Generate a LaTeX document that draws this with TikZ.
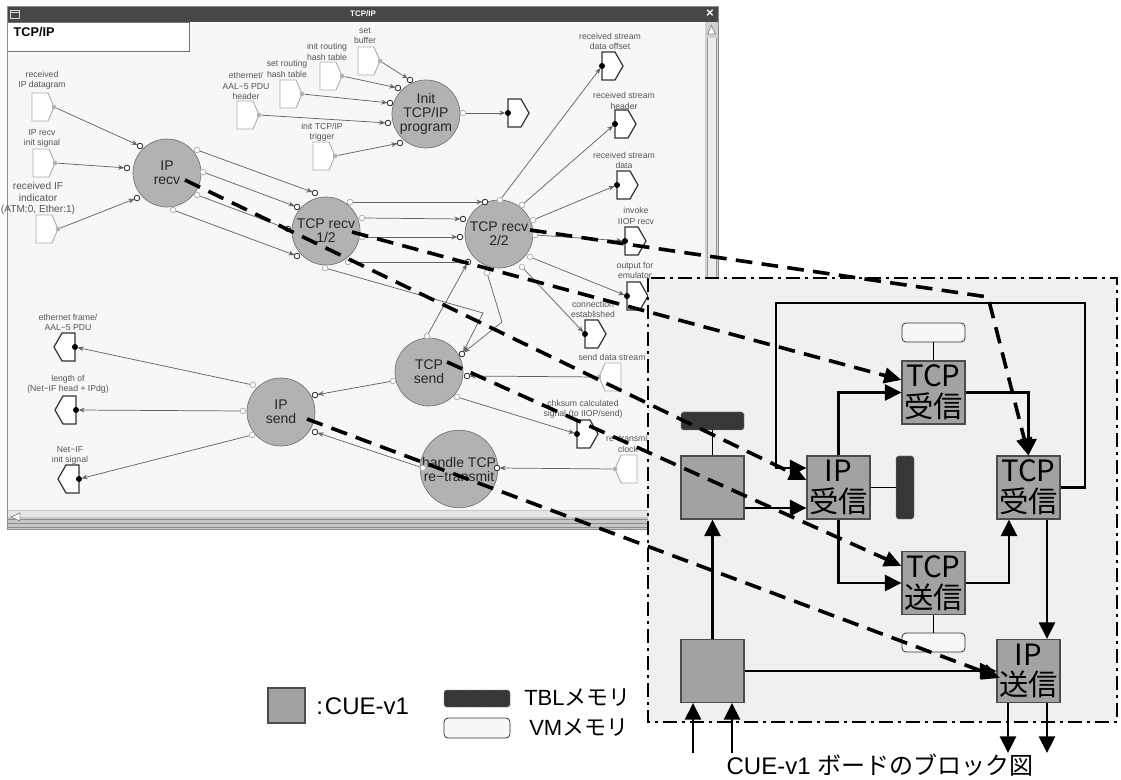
\documentclass[tikz,border=0pt]{standalone}
\usepackage{fontspec}
\setmainfont{Liberation Sans}
\newfontfamily\jp{Noto Sans CJK JP}
\usetikzlibrary{arrows.meta}
\definecolor{winbg}{RGB}{247,247,247}
\definecolor{circfill}{RGB}{178,178,178}
\definecolor{blk}{RGB}{162,162,162}
\definecolor{panel}{RGB}{240,240,240}
\definecolor{tbl}{RGB}{55,55,55}
\definecolor{vm}{RGB}{247,247,247}
\definecolor{lbl}{RGB}{85,85,85}
\definecolor{wirec}{RGB}{100,100,100}
\definecolor{intermc}{RGB}{175,175,175}
\tikzset{
 proc/.style={circle, draw=black!55, line width=0.5pt, fill=circfill, minimum size=51pt, inner sep=0pt, align=center, font=\fontsize{10.5}{10.5}\selectfont, text=black!85},
 lab/.style={align=center, font=\fontsize{6.5}{7.8}\selectfont, text=lbl, inner sep=0pt},
 wire/.style={draw=wirec, line width=0.55pt, shorten <=2pt, shorten >=2pt, -{Stealth[length=4.5pt,width=3.6pt]}},
 interm/.style={draw=intermc, line width=0.7pt, fill=white},
 outterm/.style={draw=black!80, line width=0.9pt, fill=white},
 inring/.style={draw=black!85, line width=0.6pt, fill=white},
 outring/.style={draw=black!30, line width=0.6pt, fill=white},
 cue/.style={draw=black!70, line width=0.8pt, fill=blk, minimum width=47.25pt, minimum height=47.25pt, inner sep=0pt, align=center, font=\jp\fontsize{22}{23}\selectfont},
 tblmem/.style={draw=black!50, densely dotted, line width=0.6pt, fill=tbl, rounded corners=2pt, inner sep=0pt},
 vmmem/.style={draw=black!80, line width=0.6pt, fill=vm, rounded corners=3pt, inner sep=0pt, minimum width=47.25pt, minimum height=14.25pt},
 solidarrow/.style={line width=2.2pt, -{Triangle[length=12.5pt,width=12pt]}},
 dasharrow/.style={line width=2.7pt, dash pattern=on 12.5pt off 7pt, -{Triangle[length=13pt,width=11.5pt]}},
 panelbox/.style={draw=black, fill=panel, line width=2.2pt, dash pattern=on 10.5pt off 3.75pt on 2.25pt off 3.75pt},
}
\newcommand{\tInR}[3]{%
  \draw[interm] (#2,#3) -- ++(-6,-14) -- ++(-16,0) -- ++(0,28) -- ++(16,0) -- cycle;
  \coordinate (#1) at (#2,#3);
  \fill[gray!60] (#1) circle[radius=2.3];}
\newcommand{\tInL}[3]{%
  \draw[interm] (#2,#3) -- ++(6,-14) -- ++(16,0) -- ++(0,28) -- ++(-16,0) -- cycle;
  \coordinate (#1) at (#2,#3);
  \fill[gray!60] (#1) circle[radius=2.3];}
\newcommand{\tOutR}[3]{%
  \draw[outterm] (#2,#3) -- ++(0,-14) -- ++(13,0) -- ++(8,14) -- ++(-8,14) -- ++(-13,0) -- cycle;
  \coordinate (#1) at (#2,#3);
  \fill[black] (#1) circle[radius=3];}
\newcommand{\tOutL}[3]{%
  \draw[outterm] (#2,#3) -- ++(0,-14) -- ++(-13,0) -- ++(-8,14) -- ++(8,14) -- ++(13,0) -- cycle;
  \coordinate (#1) at (#2,#3);
  \fill[black] (#1) circle[radius=3];}
\begin{document}
\begin{tikzpicture}[x=0.75pt,y=-0.75pt]
\useasboundingbox (0,0) rectangle (1121,780);
\fill[white] (0,0) rectangle (1121,780);

% ---------------- screenshot window ----------------
\fill[winbg] (7,22) rectangle (705,510);
\fill[black!72] (7,6) rectangle (718,22);
\draw[white!85!black, line width=0.6pt] (10.5,10) rectangle (19,18);
\draw[white!85!black, line width=0.6pt] (11,12.5) -- (18.5,12.5);
\node[font=\bfseries\fontsize{6}{6}\selectfont, text=white] (title) at (363,14) {TCP/IP};
\node[font=\bfseries\fontsize{10}{10}\selectfont, text=white] (closex) at (710,14) {×};
\draw[fill=white, draw=black!55, line width=0.7pt] (7,22) rectangle (189,51);
\node[anchor=west, font=\bfseries\fontsize{9.5}{10}\selectfont] (hdr) at (9,32) {TCP/IP};
% right scrollbar
\fill[black!18] (705,22) rectangle (718,510);
\fill[black!8] (707,38) rectangle (716,508);
\draw[black!40, line width=0.5pt] (707,38) -- (707,508) (716,38) -- (716,508);
\draw[black!45, line width=0.6pt, fill=white] (707.5,34) -- (711.5,25.5) -- (715.5,34) -- cycle;
% bottom scrollbar
\fill[black!22] (7,510) rectangle (705,529);
\fill[black!10] (7,511) rectangle (705,517);
\draw[black!45, line width=0.6pt] (7,519) -- (705,519) (7,523) -- (705,523) (7,527) -- (705,527);
\draw[black!45, line width=0.6pt, fill=white] (20,513) -- (11,517) -- (20,521) -- cycle;
\draw[black!45, line width=0.6pt] (7,6) rectangle (718,529);

% process circles
\node[proc] (iprecv) at (167,173) {IP\\recv};
\node[proc] (tcp1) at (326,231) {TCP recv\\1/2};
\node[proc] (tcp2) at (499,234) {TCP recv\\2/2};
\node[proc] (init) at (426,114) {Init\\TCP/IP\\program};
\node[proc] (tsend) at (429,372) {TCP\\send};
\node[proc] (isend) at (281,412) {IP\\send};
\node[proc] (handle) at (459,469) {handle TCP\\re−transmit};

% terminals
\tInR{trid}{54}{107}
\tInR{tirs}{55}{163}
\tInR{trif}{58}{229}
\tInR{tsbuf}{380}{61}
\tInR{tirh}{342}{76}
\tInR{tsrh}{302}{94}
\tInR{teth}{259}{115}
\tInR{titt}{335}{156}
\tInL{tsds}{599}{377}
\tInL{trtc}{615}{469}
\tOutR{tinit}{508}{113}
\tOutR{trsdo}{602}{66}
\tOutR{trsh}{615}{124}
\tOutR{trsd}{617}{185}
\tOutR{tiiop}{625}{241}
\tOutR{tofe}{627}{296}
\tOutR{tconn}{585}{334}
\tOutR{tchk}{577}{434}
\tOutL{tethf}{75}{347}
\tOutL{tlen}{76}{410}
\tOutL{tnetif}{79}{479}

% labels
\node[lab] (l1) at (42,80.5) {received\\IP datagram};
\node[lab] (l2) at (42,138.5) {IP recv\\init signal};
\node[lab, font=\fontsize{7.6}{8.6}\selectfont] (l3) at (38,198.5) {received IF\\indicator\\(ATM:0, Ether:1)};
\node[lab] (l4) at (365,36) {set\\buffer};
\node[lab] (l5) at (327,52) {init routing\\hash table};
\node[lab] (l6) at (287,69) {set routing\\hash table};
\node[lab] (l7) at (246,86) {ethernet/\\AAL−5 PDU\\header};
\node[lab] (l8) at (322,132) {init TCP/IP\\trigger};
\node[lab] (l9) at (610,41.5) {received stream\\data offset};
\node[lab] (l10) at (624,101) {received stream\\header};
\node[lab] (l11) at (624,160.5) {received stream\\data};
\node[lab] (l12) at (636,216) {invoke\\IIOP recv};
\node[lab] (l13) at (635,270.5) {output for\\emulator};
\node[lab] (l14) at (593,309.5) {connection\\established};
\node[lab] (l15) at (612,357) {send data stream};
\node[lab] (l16) at (583,409.5) {chksum calculated\\signal (to IIOP/send)};
\node[lab] (l17) at (628,444) {re−transmit\\clock};
\node[lab] (l18) at (68,322.5) {ethernet frame/\\AAL−5 PDU};
\node[lab] (l19) at (68,384.5) {length of\\(Net−IF head + IPdg)};
\node[lab] (l20) at (70,455.5) {Net−IF\\init signal};

% ports
\coordinate (pa1) at (140,146); \coordinate (pa2) at (127,168); \coordinate (pa3) at (137,198);
\coordinate (pa4) at (197,150); \coordinate (pa5) at (203,172); \coordinate (pa6) at (197,195); \coordinate (pa7) at (173,210);
\coordinate (pb1) at (315,193); \coordinate (pb2) at (297,207); \coordinate (pb3) at (288,229); \coordinate (pb4) at (297,256);
\coordinate (pb5) at (350,202); \coordinate (pb6) at (362,218); \coordinate (pb7) at (362,237); \coordinate (pb8) at (348,262); \coordinate (pb9) at (325,268);
\coordinate (pc1) at (485,202); \coordinate (pc2) at (463,219); \coordinate (pc3) at (460,237); \coordinate (pc4) at (468,262);
\coordinate (pc5) at (500,200); \coordinate (pc6) at (522,205); \coordinate (pc7) at (533,220); \coordinate (pc8) at (535,235);
\coordinate (pc9) at (530,257); \coordinate (pc10) at (522,267); \coordinate (pc11) at (487,273);
\coordinate (pd1) at (410,80); \coordinate (pd2) at (398,88); \coordinate (pd3) at (390,103); \coordinate (pd4) at (388,123); \coordinate (pd5) at (400,143); \coordinate (pd6) at (463,113);
\coordinate (pe1) at (462,354); \coordinate (pe2) at (467,376); \coordinate (pe3) at (427,336); \coordinate (pe4) at (457,397); \coordinate (pe5) at (393,381);
\coordinate (pf1) at (315,395); \coordinate (pf2) at (315,432); \coordinate (pf3) at (253,385); \coordinate (pf4) at (243,411); \coordinate (pf5) at (252,435);
\coordinate (pg1) at (497,468); \coordinate (pg2) at (423,468);
\coordinate (k1) at (483,313); \coordinate (k2) at (502,322);

% wires
\draw[wire] (trid) -- (pa1); \draw[wire] (tirs) -- (pa2); \draw[wire] (trif) -- (pa3);
\draw[wire] (pa4) -- (pb1); \draw[wire] (pa5) -- (pb2); \draw[wire] (pa6) -- (pb3); \draw[wire] (pa7) -- (pb4);
\draw[wire] (pb5) -- (pc1); \draw[wire] (pb6) -- (pc2); \draw[wire] (pb7) -- (pc3); \draw[wire] (pb8) -- (pc4);
\draw[wire] (pb9) -- (k1) -- (pe1); \draw[wire] (pc11) -- (k2) -- (pe1); \draw[wire] (pe3) -- (pc4);
\draw[wire] (tsbuf) -- (pd1); \draw[wire] (tirh) -- (pd2); \draw[wire] (tsrh) -- (pd3); \draw[wire] (teth) -- (pd4); \draw[wire] (titt) -- (pd5);
\draw[wire] (pd6) -- (tinit);
\draw[wire] (pc5) -- (trsdo); \draw[wire] (pc6) -- (trsh); \draw[wire] (pc7) -- (trsd);
\draw[wire] (pc8) -- (tiiop); \draw[wire] (pc9) -- (tofe); \draw[wire] (pc10) -- (tconn);
\draw[wire] (tsds) -- (pe2); \draw[wire] (pe4) -- (tchk); \draw[wire] (pe5) -- (pf1);
\draw[wire] (trtc) -- (pg1); \draw[wire] (pg2) -- (pf2);
\draw[wire] (pf3) -- (tethf); \draw[wire] (pf4) -- (tlen); \draw[wire] (pf5) -- (tnetif);
\foreach \p in {pa1,pa2,pa3,pb1,pb2,pb3,pb4,pc1,pc2,pc3,pc4,pd1,pd2,pd3,pd4,pd5,pe1,pe2,pf1,pf2,pg1}
  \draw[inring] (\p) circle[radius=2.8];
\foreach \p in {pa4,pa5,pa6,pa7,pb5,pb6,pb7,pb8,pb9,pc5,pc6,pc7,pc8,pc9,pc10,pc11,pd6,pe3,pe4,pe5,pf3,pf4,pf5,pg2}
  \draw[outring] (\p) circle[radius=2.8];

% ---------------- block diagram panel ----------------
\draw[panelbox] (648,278) rectangle (1117,722);

\node[cue] (tcpr1) at (933.5,392.5) {TCP\\受信};
\node[vmmem] (vm1) at (933.5,332.5) {};
\draw[line width=0.6pt] (vm1.south) -- (tcpr1.north);
\node[cue] (ipr) at (838.5,487.5) {IP\\受信};
\node[tblmem, minimum width=13.5pt, minimum height=47.25pt] (tblv) at (905,487.5) {};
\draw[line width=0.6pt] (ipr.east) -- (tblv.west);
\node[cue] (tcpr2) at (1028.5,487.5) {TCP\\受信};
\node[cue] (tcps) at (933.5,583) {TCP\\送信};
\node[vmmem] (vm2) at (933.5,642.5) {};
\draw[line width=0.6pt] (tcps.south) -- (vm2.north);
\node[cue] (cueA) at (712.5,487.5) {};
\node[tblmem, minimum width=47.25pt, minimum height=13.5pt] (tblh) at (712.5,421) {};
\draw[line width=0.6pt] (tblh.south) -- (cueA.north);
\node[cue] (cueB) at (712.5,671) {};
\node[cue] (ips) at (1028.5,671) {IP\\送信};

\coordinate (lp1) at (1085,303);
\coordinate (lp2) at (776,303);
\coordinate (lp3) at (776,468);
\coordinate (y508) at (0,508);
\coordinate (x1009) at (1009,0);
\coordinate (x1047) at (1047,0);
\coordinate (in1) at (693,753);
\coordinate (in2) at (732,753);
\coordinate (out1) at (1008,753);
\coordinate (out2) at (1047,753);

\draw[solidarrow] (tcpr2.east) -| (lp1) -- (lp2) -- (lp3) -- (lp3 -| ipr.west);
\draw[solidarrow] (cueB.north) -- (cueA.south);
\draw[solidarrow] (cueA.east |- y508) -- (ipr.west |- y508);
\draw[solidarrow] (ipr.north) |- (tcpr1.west);
\draw[solidarrow] (ipr.south) |- (tcps.west);
\draw[solidarrow] (tcpr1.east) -| (tcpr2.north);
\draw[solidarrow] (tcps.east) -| (x1009 |- tcpr2.south);
\draw[solidarrow] (x1047 |- tcpr2.south) -- (x1047 |- ips.north);
\draw[solidarrow] (cueB.east) -- (ips.west);
\draw[solidarrow] (in1) -- (in1 |- cueB.south);
\draw[solidarrow] (in2) -- (in2 |- cueB.south);
\draw[solidarrow] (out1 |- ips.south) -- (out1);
\draw[solidarrow] (out2 |- ips.south) -- (out2);

\node[font=\fontsize{18}{18}\selectfont] (caption) at (880,765) {CUE-v1 {\jp ボードのブロック図}};

% legend
\node[draw=black!70, line width=0.8pt, fill=blk, minimum width=27.75pt, minimum height=26.25pt, inner sep=0pt] (lg1) at (286.5,705.5) {};
\node[anchor=west, font=\fontsize{18}{18}\selectfont, inner sep=0pt] (lg1t) at (316,706) {:\kern1.5pt CUE-v1};
\node[tblmem, minimum width=49.5pt, minimum height=12.75pt] (lg2) at (477,698.5) {};
\node[anchor=west, font=\fontsize{16.5}{16.5}\selectfont, inner sep=0pt] (lg2t) at (524,698) {TBL{\jp メモリ}};
\node[vmmem, minimum width=49.5pt, minimum height=15pt] (lg3) at (477,728) {};
\node[anchor=west, font=\fontsize{16.5}{16.5}\selectfont, inner sep=0pt] (lg3t) at (529,728) {VM{\jp メモリ}};

% ---------------- dashed correspondence arrows ----------------
\coordinate (s1) at (185,180);
\coordinate (s2) at (352,232);
\coordinate (s3) at (530,230);
\coordinate (s4) at (447,362);
\coordinate (s5) at (307,419);
\coordinate (bend3) at (988,297);
\draw[dasharrow] (s1) -- (ipr.west |- 0,480);
\draw[dasharrow] (s2) -- (tcpr1.west |- 0,380);
\draw[dasharrow] (s3) -- (bend3) -- (tcpr2.north);
\draw[dasharrow] (s4) -- (tcps.west |- 0,566);
\draw[dasharrow] (s5) -- (1000,678);
\end{tikzpicture}
\end{document}
